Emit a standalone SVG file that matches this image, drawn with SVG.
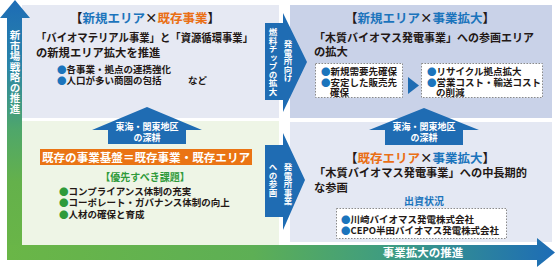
<svg xmlns="http://www.w3.org/2000/svg" width="556" height="268" viewBox="0 0 556 268">
<style>
text{font-family:"Noto Sans CJK JP","Noto Sans CJK SC",sans-serif;fill:#231815;font-weight:bold}
.ttl{font-size:12.5px}
.body{font-size:11.3px}
.sm{font-size:9.5px}
.wt{fill:#fff}
.blue{fill:#1b74bc}
.org{fill:#ea6f15}
.grn{fill:#2e9a3a}
.vt{writing-mode:vertical-rl;fill:#fff}
.arrow{fill:#1f6cb3}
.dot{fill:#fff;stroke:#8a8a8a;stroke-width:1;stroke-dasharray:1.5 1.5}
</style>
<defs>
<linearGradient id="gv" gradientUnits="userSpaceOnUse" x1="0" y1="0" x2="0" y2="260">
<stop offset="0" stop-color="#1d6cb6"/>
<stop offset="0.25" stop-color="#2a84a8"/>
<stop offset="0.5" stop-color="#4fa76a"/>
<stop offset="0.7" stop-color="#64b14b"/>
<stop offset="1" stop-color="#6ab647"/>
</linearGradient>
<linearGradient id="gh" gradientUnits="userSpaceOnUse" x1="7" y1="0" x2="555" y2="0">
<stop offset="0" stop-color="#6ab647"/>
<stop offset="0.45" stop-color="#5daf55"/>
<stop offset="0.72" stop-color="#3b9a86"/>
<stop offset="1" stop-color="#1d6cb6"/>
</linearGradient>
</defs>

<g id="panels">
<rect x="22" y="5" width="257" height="113" fill="#e6e9f3"/>
<rect x="22" y="121" width="257" height="124" fill="#eef5e6"/>
<rect x="290" y="5" width="262" height="113" fill="#c9d2e8"/>
<rect x="290" y="122" width="262" height="120" fill="#e4e8f3"/>
</g>

<g id="connectors">
<g id="axis-v">
<polygon points="7,260 7,18 0,18 15,0 30,18 22,18 22,260" fill="url(#gv)"/>
<text class="vt" x="15" y="30" font-size="10.5">新市場戦略の推進</text>
</g>
<g id="axis-h">
<polygon points="7,245 537,245 537,238 555,252.5 537,267 537,260 7,260" fill="url(#gh)"/>
<text class="wt" x="423" y="256.5" font-size="11.5" text-anchor="middle">事業拡大の推進</text>
</g>
<g id="arrow-chip">
<polygon class="arrow" points="265,23 283,23 283,13 307,62 283,112 283,100 265,100"/>
<text class="vt" x="288" y="40" font-size="8.5">発電所向け</text>
<text class="vt" x="273" y="28" font-size="8.5">燃料チップの拡大</text>
</g>
<g id="arrow-plant">
<polygon class="arrow" points="265,145 283,145 283,133 305,180 283,230 283,217 265,217"/>
<text class="vt" x="288" y="163" font-size="8.5">発電所事業</text>
<text class="vt" x="273" y="163" font-size="8.5">への参画</text>
</g>
<g id="arrow-up-left">
<polygon class="arrow" points="147,107 202,130 186,130 186,144 108,144 108,130 92,130"/>
<text class="wt" x="147" y="130" font-size="9" text-anchor="middle">東海・関東地区</text>
<text class="wt" x="147" y="140.5" font-size="9" text-anchor="middle">の深耕</text>
</g>
<g id="arrow-up-right">
<polygon class="arrow" points="424,108 479,130 463,130 463,145 385,145 385,130 369,130"/>
<text class="wt" x="424" y="130" font-size="9" text-anchor="middle">東海・関東地区</text>
<text class="wt" x="424" y="140.5" font-size="9" text-anchor="middle">の深耕</text>
</g>
<polygon id="arrow-small" class="arrow" points="408,77 419,85.5 408,94"/>
</g>

<g id="node-new-area-existing">
<text class="ttl" x="145" y="22.5" text-anchor="middle">【<tspan class="blue">新規エリア</tspan>×<tspan class="org">既存事業</tspan>】</text>
<text class="body" x="36" y="42" textLength="217" lengthAdjust="spacingAndGlyphs">「バイオマテリアル事業」と「資源循環事業」</text>
<text class="body" x="36" y="56.5">の新規エリア拡大を推進</text>
<text class="sm" x="57" y="72.5"><tspan class="blue">●</tspan>各事業・拠点の連携強化</text>
<text class="sm" x="57" y="83.5"><tspan class="blue">●</tspan>人口が多い商圏の包括<tspan x="188">など</tspan></text>
</g>

<g id="node-existing-base">
<rect x="40" y="149" width="212" height="16" fill="#ea7414"/>
<text class="wt" x="146" y="161.5" font-size="11.7" text-anchor="middle" textLength="208" lengthAdjust="spacingAndGlyphs">既存の事業基盤＝既存事業・既存エリア</text>
<text class="grn" x="145" y="181" font-size="10" text-anchor="middle">【優先すべき課題】</text>
<text class="sm" x="59" y="194.5"><tspan class="grn">●</tspan>コンプライアンス体制の充実</text>
<text class="sm" x="59" y="205.5"><tspan class="grn">●</tspan>コーポレート・ガバナンス体制の向上</text>
<text class="sm" x="59" y="217.5"><tspan class="grn">●</tspan>人材の確保と育成</text>
</g>

<g id="node-new-area-expansion">
<text class="ttl" x="420" y="22.5" text-anchor="middle">【<tspan class="blue">新規エリア</tspan>×<tspan class="blue">事業拡大</tspan>】</text>
<text class="body" x="314" y="41.5" textLength="220" lengthAdjust="spacingAndGlyphs">「木質バイオマス発電事業」への参画エリア</text>
<text class="body" x="314" y="56">の拡大</text>
<rect class="dot" x="315.5" y="63.5" width="87" height="34"/>
<text class="sm" x="321" y="74.5"><tspan class="blue">●</tspan>新規需要先確保</text>
<text class="sm" x="321" y="85.5"><tspan class="blue">●</tspan>安定した販売先</text>
<text class="sm" x="330" y="96">確保</text>
<rect class="dot" x="421.5" y="63.5" width="121" height="34"/>
<text class="sm" x="427" y="74.5"><tspan class="blue">●</tspan>リサイクル拠点拡大</text>
<text class="sm" x="427" y="85.5"><tspan class="blue">●</tspan>営業コスト・輸送コスト</text>
<text class="sm" x="436" y="96">の削減</text>
</g>

<g id="node-existing-expansion">
<text class="ttl" x="420" y="162.5" text-anchor="middle">【<tspan class="org">既存エリア</tspan>×<tspan class="blue">事業拡大</tspan>】</text>
<text class="body" x="314" y="177" textLength="213" lengthAdjust="spacingAndGlyphs">「木質バイオマス発電事業」への中長期的</text>
<text class="body" x="314" y="192">な参画</text>
<text class="blue" x="424" y="204.5" font-size="10" text-anchor="middle">出資状況</text>
<rect class="dot" x="336.5" y="208.5" width="170" height="30"/>
<text class="sm" x="341" y="222.5"><tspan class="blue">●</tspan>川崎バイオマス発電株式会社</text>
<text class="sm" x="341" y="233.5" textLength="158" lengthAdjust="spacingAndGlyphs"><tspan class="blue">●</tspan>CEPO半田バイオマス発電株式会社</text>
</g>
</svg>
